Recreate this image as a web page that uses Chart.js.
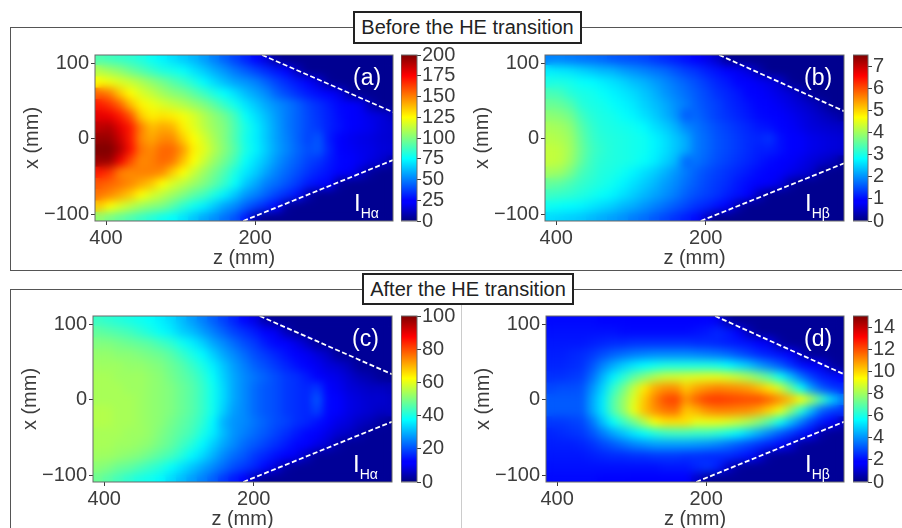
<!DOCTYPE html>
<html><head><meta charset="utf-8">
<script src="https://cdn.jsdelivr.net/npm/chart.js@4"></script>
<style>
html,body{margin:0;padding:0;background:#fff;width:902px;height:528px;overflow:hidden;font-family:"Liberation Sans",Arial,sans-serif}
canvas{position:absolute}
.frame{position:absolute;border:1px solid #555;box-sizing:border-box}
.title{position:absolute;background:#fff;border:2px solid #222;box-sizing:border-box;color:#222;font-size:20px;text-align:center;line-height:28px;white-space:nowrap}
.lab{position:absolute;color:#fff;white-space:nowrap;z-index:5}
.lab sub{font-size:14px;vertical-align:baseline;position:relative;top:7px}
</style></head><body>
<div class="frame" style="left:10px;top:27px;width:900px;height:244px"></div>
<div class="frame" style="left:10px;top:289px;width:900px;height:260px"></div>
<div style="position:absolute;left:461px;top:305px;width:1px;height:223px;background:#ccc"></div>
<div class="title" style="left:353px;top:11px;width:229px;height:33px">Before the HE transition</div>
<div class="title" style="left:362px;top:273px;width:212px;height:32px">After the HE transition</div>
<script>
const zCenters=[408,394,380,366,352,338,324,310,296,282,268,254,240,226,212,198,184,170,156,142,128,114,100,86,72,58,44,30,16];
const xCenters=[105,90,75,60,45,30,15,0,-15,-30,-45,-60,-75,-90,-105];
const zTicks=[400,200];
const xTicks=[100,0,-100];
const ticksA=[0,25,50,75,100,125,150,175,200];
const ticksB=[0,1,2,3,4,5,6,7];
const ticksC=[0,20,40,60,80,100];
const ticksD=[0,2,4,6,8,10,12,14];
const intensityA=[
[90,88,86,84,81,77,73,69,65,61,56,50,44,38,32,26,16,5,3,3,3,3,3,3,3,3,3,3,3],
[110,106,102,96,91,86,81,79,76,70,65,59,54,48,43,38,33,29,24,10,3,3,3,3,3,3,3,3,3],
[125,122,118,114,109,103,98,92,87,81,74,68,62,57,54,50,44,38,33,29,25,15,4,3,3,3,3,3,3],
[155,150,135,125,118,113,107,102,99,93,87,80,75,69,62,57,52,44,39,34,30,27,25,18,5,3,3,3,3],
[170,165,155,138,127,122,118,114,110,105,100,93,85,78,70,64,58,53,49,44,38,34,30,26,24,20,8,3,3],
[180,178,170,158,135,128,130,128,123,118,110,103,97,88,76,69,62,55,49,44,39,35,31,27,24,21,18,16,12],
[188,190,180,170,150,138,142,140,128,120,112,105,100,90,80,72,64,56,49,44,39,36,31,28,24,21,19,16,14],
[195,195,185,170,148,142,148,148,135,125,117,108,100,90,79,72,64,56,50,44,38,42,30,23,20,18,17,15,14],
[205,205,190,172,152,148,155,155,145,128,120,110,101,92,80,73,65,57,51,45,40,42,32,25,21,19,18,16,15],
[195,195,178,160,148,150,155,152,138,125,115,105,97,88,76,69,62,54,48,43,38,35,30,26,23,20,17,14,8],
[170,165,150,148,150,150,148,135,125,115,106,98,90,80,71,65,57,50,45,40,35,31,28,25,21,14,5,3,3],
[158,155,152,148,142,136,125,118,112,106,100,93,85,76,65,58,50,46,41,36,30,27,24,5,3,3,3,3,3],
[152,148,142,135,125,118,112,106,100,93,88,80,72,64,55,50,44,38,33,28,8,3,3,3,3,3,3,3,3],
[135,125,118,112,106,102,99,92,84,78,72,65,57,52,44,38,32,26,5,3,3,3,3,3,3,3,3,3,3],
[103,98,94,90,86,82,78,75,70,64,58,53,47,41,30,8,3,3,3,3,3,3,3,3,3,3,3,3,3]];
const intensityB=[
[1.9,1.9,1.85,1.8,1.75,1.7,1.6,1.55,1.5,1.45,1.35,1.25,1.15,1.05,.9,.7,.5,.15,.1,.1,.1,.1,.1,.1,.1,.1,.1,.1,.1],
[2.7,2.65,2.6,2.5,2.4,2.3,2.25,2.1,2,1.9,1.8,1.7,1.55,1.4,1.3,1.15,1.05,.9,.75,.6,.3,.1,.1,.1,.1,.1,.1,.1,.1],
[3,3,2.95,2.85,2.8,2.7,2.6,2.5,2.35,2.25,2.1,1.95,1.8,1.65,1.5,1.35,1.2,1.1,.95,.85,.75,.65,.5,.15,.1,.1,.1,.1,.1],
[3.35,3.3,3.1,3,2.95,2.85,2.75,2.65,2.55,2.4,2.25,2.05,1.9,1.75,1.6,1.45,1.3,1.2,1.1,.95,.85,.75,.65,.55,.4,.15,.1,.1,.1],
[3.6,3.55,3.4,3.1,3,2.95,2.85,2.75,2.65,2.5,2.35,2.2,2,1.85,1.65,1.5,1.4,1.25,1.15,1.05,.95,.85,.75,.65,.55,.45,.3,.1,.1],
[3.85,3.8,3.65,3.3,3.1,3,2.95,2.85,2.75,2.6,2.45,2.25,2.05,1.6,1.7,1.55,1.4,1.3,1.2,1.1,1,.95,.85,.75,.65,.55,.45,.35,.2],
[4.05,4,3.85,3.45,3.2,3.05,3,2.95,2.9,2.8,2.6,2.45,2.25,1.95,1.8,1.65,1.5,1.4,1.3,1.2,1.1,1.05,.95,.8,.7,.6,.55,.5,.45],
[4.15,4.1,3.95,3.55,3.25,3.1,3.05,3,2.95,2.9,2.75,2.6,2.4,2.2,1.85,1.7,1.55,1.45,1.35,1.25,1.2,1.3,1.05,.9,.8,.7,.65,.6,.55],
[4.25,4.2,4,3.6,3.3,3.15,3.05,3,2.95,2.9,2.75,2.6,2.4,2.2,1.85,1.7,1.55,1.45,1.35,1.25,1.15,1.15,1.05,.9,.8,.7,.65,.6,.55],
[4.25,4.2,3.95,3.55,3.25,3.1,3.05,3,2.95,2.85,2.7,2.5,2.3,1.7,1.8,1.65,1.5,1.4,1.3,1.2,1.1,1,.9,.8,.7,.6,.5,.4,.15],
[4,3.95,3.7,3.35,3.2,3.05,3,2.9,2.75,2.6,2.45,2.25,2.05,1.85,1.65,1.5,1.4,1.3,1.2,1.1,1,.9,.8,.7,.6,.5,.15,.1,.1],
[3.55,3.5,3.35,3.2,3.1,3,2.9,2.75,2.6,2.45,2.3,2.1,1.95,1.75,1.6,1.45,1.35,1.25,1.1,1,.9,.8,.65,.25,.1,.1,.1,.1,.1],
[3.25,3.2,3.15,3.05,2.95,2.85,2.75,2.6,2.45,2.3,2.15,2,1.85,1.65,1.5,1.4,1.3,1.15,1.05,.9,.4,.1,.1,.1,.1,.1,.1,.1,.1],
[2.9,2.85,2.8,2.75,2.65,2.55,2.45,2.3,2.2,2.05,1.9,1.75,1.6,1.45,1.3,1.2,1.05,.8,.3,.1,.1,.1,.1,.1,.1,.1,.1,.1,.1],
[2.55,2.5,2.45,2.4,2.3,2.2,2.1,2,1.85,1.75,1.6,1.45,1.3,1.15,1,.5,.1,.1,.1,.1,.1,.1,.1,.1,.1,.1,.1,.1,.1]];
const intensityC=[
[43,42,41,40,39,38,36,34,31,28,25,22,19,16,13,9,4,2,2,2,2,2,2,2,2,2,2,2,2],
[47,46,45,44,42,40,38,36,33,31,28,25,22,19,17,15,12,10,5,2,2,2,2,2,2,2,2,2,2],
[50,50,49,48,47,46,44,42,39,36,33,29,26,23,20,18,15,13,11,9,6,2,2,2,2,2,2,2,2],
[52,52,51,51,50,49,48,46,43,40,37,33,29,26,23,20,18,16,14,12,10,8,6,2,2,2,2,2,2],
[53,53,53,52,52,51,50,48,46,43,40,36,32,28,25,22,20,18,16,14,12,10,8,7,5,2,2,2,2],
[54,54,53,53,53,52,51,49,47,45,42,38,33,29,26,24,22,20,18,17,15,12,10,9,7,5,4,2,2],
[54,54,54,53,53,52,51,50,48,46,43,39,34,29,26,23,21,20,18,17,16,18,12,10,8,7,6,6,5],
[54,54,54,54,53,52,51,50,48,46,43,39,34,29,26,23,21,20,18,17,16,21,13,11,9,8,7,7,6],
[55,55,54,54,53,52,51,50,48,46,43,39,33,28,26,23,21,20,18,17,16,19,13,11,9,8,7,6,6],
[55,55,54,54,53,52,51,49,47,45,42,37,30,27,26,24,22,20,19,17,16,14,11,9,8,6,5,3,2],
[54,54,54,53,53,52,50,48,46,44,40,36,31,27,25,23,21,19,17,15,13,11,9,7,6,4,2,2,2],
[54,54,53,53,52,51,49,47,44,41,37,33,29,26,23,21,19,17,15,13,11,9,7,3,2,2,2,2,2],
[53,53,52,51,50,48,46,44,41,37,34,30,26,23,21,18,16,14,12,10,5,2,2,2,2,2,2,2,2],
[51,50,48,47,45,43,41,38,35,32,29,26,23,20,18,16,13,8,3,2,2,2,2,2,2,2,2,2,2],
[48,46,44,42,40,39,37,34,31,28,25,22,18,15,11,5,2,2,2,2,2,2,2,2,2,2,2,2,2]];
const intensityD=[
[2,2,2,2,2,1.9,1.9,1.9,1.8,1.8,1.8,1.7,1.7,1.7,1.8,1.9,1.5,.5,.3,.3,.3,.3,.3,.3,.3,.3,.3,.3,.3],
[2.1,2.1,2.1,2.1,2.1,2.1,2.1,2,2,2,2,2,2,2,2.1,2.2,2.4,2.2,1.6,.7,.3,.3,.3,.3,.3,.3,.3,.3,.3],
[2.2,2.2,2.2,2.2,2.3,2.4,2.5,2.5,2.6,2.6,2.6,2.6,2.6,2.6,2.5,2.5,2.4,2.3,2.2,2.1,1.8,1.4,.5,.3,.3,.3,.3,.3,.3],
[2.3,2.3,2.4,2.5,2.7,3,3.3,3.5,3.7,3.8,3.9,3.9,3.9,3.9,3.8,3.7,3.6,3.4,3.1,2.8,2.5,2.3,2.1,1.7,.8,.3,.3,.3,.3],
[2.4,2.4,2.5,2.6,3.1,3.8,4.4,4.9,5.3,5.6,5.8,6,6,6,6,6,5.9,5.6,5.2,4.8,4.2,3.7,3.2,2.6,2.1,1.8,1.4,.5,.3],
[2.6,2.6,2.7,2.8,3.5,4.5,5.4,6.2,7,7.6,8.2,8.6,8.7,8.8,8.9,9,9,8.8,8.5,8.1,7.5,6.8,5.8,4.7,3.6,2.8,2.3,2.1,1.9],
[2.9,3,3,3.1,4,5,6.3,7.3,8.5,9.7,10.6,11,11,10.2,10.7,11,11.2,11.1,11,10.8,10.3,9.7,8.7,7.2,5.7,4.2,3.2,2.7,2.5],
[3.2,3.2,3.2,3.2,4.3,5.3,6.8,7.8,8.9,10.2,11.2,12,12.2,11,11.7,12.2,12.3,12.2,12.1,12,12,11.6,11,10.3,9.4,8.1,6.6,5,3.8],
[3.2,3.2,3.2,3.2,4.3,5.3,6.8,7.8,9.1,10.3,11,11.4,11.5,10.2,10.5,11,11.2,11.2,11.1,11,10.6,10,9.1,7.7,6.2,4.6,3.3,2.8,2.6],
[2.7,2.7,2.8,2.9,3.6,4.7,5.7,6.5,7.3,8.3,9.3,9.8,9.8,9.8,9.1,9.1,9.1,8.9,8.6,8.2,7.6,6.8,5.8,4.7,3.7,2.8,2.2,1.6,.8],
[2.4,2.5,2.6,2.7,3.1,3.7,4.3,4.8,5.3,5.7,6.1,6.4,6.5,6.5,6.4,6.4,6.2,5.9,5.5,5,4.4,3.8,3.2,2.7,2.2,1.6,.5,.3,.3],
[2.3,2.3,2.3,2.4,2.6,2.9,3.2,3.5,3.8,4,4.2,4.2,4.2,4.2,4.1,4,3.8,3.5,3.2,2.9,2.6,2.3,2,1.2,.4,.3,.3,.3,.3],
[2.2,2.2,2.2,2.2,2.3,2.4,2.5,2.5,2.6,2.6,2.7,2.7,2.7,2.6,2.6,2.5,2.5,2.5,2.3,2.1,1.2,.4,.3,.3,.3,.3,.3,.3,.3],
[2.1,2.1,2.1,2.1,2.1,2.1,2.1,2.1,2.1,2.1,2.1,2.2,2.2,2.2,2.4,2.6,2.3,1,.4,.3,.3,.3,.3,.3,.3,.3,.3,.3,.3],
[2,2,2,2,2,1.9,1.9,1.9,1.8,1.8,1.8,1.7,1.7,1.7,1,.4,.3,.3,.3,.3,.3,.3,.3,.3,.3,.3,.3,.3,.3]];
const wedgeTopA=[[190.6,111.4],[15,35.4]], wedgeBotA=[[216,-109.3],[15,-28.3]];
const wedgeTopB=[[182,111.4],[15,36.8]], wedgeBotB=[[206.7,-109.3],[15,-32.6]];
const wedgeTopC=[[192,111.4],[15,34]], wedgeBotC=[[214,-109.3],[15,-29.2]];
const wedgeTopD=[[188,111.4],[15,34]], wedgeBotD=[[213.4,-109.3],[15,-29.2]];

const stops=[[0,[0,0,128]],[0.11,[0,0,255]],[0.125,[0,0,255]],[0.375,[0,255,255]],[0.625,[255,255,0]],[0.875,[255,0,0]],[1,[128,0,0]]];
function jet(f){f=Math.max(0,Math.min(1,f));
 for(let i=1;i<stops.length;i++){if(f<=stops[i][0]){const a=stops[i-1],b=stops[i],t=(f-a[0])/(b[0]-a[0]);
  return 'rgb('+a[1].map((c,k)=>Math.round(c+(b[1][k]-c)*t)).join(',')+')';}}
 return 'rgb(128,0,0)';}
const inkColor='#3c3c3c', spine='#6a6a6a';
const blurPlugin={id:'soften',afterDatasetDraw(chart,args){
 if(!chart.data.datasets[args.index].isHeat)return;
 const a=chart.chartArea,c=chart.ctx;c.save();c.beginPath();c.rect(a.left,a.top,a.width,a.height);c.clip();
 c.filter='blur(4px)';c.drawImage(chart.canvas,a.left,a.top,a.width,a.height,a.left,a.top,a.width,a.height);c.restore();}};
const spinePlugin={id:'spine',afterDraw(chart){const a=chart.chartArea,c=chart.ctx;c.save();c.strokeStyle=spine;c.lineWidth=1;
 c.strokeRect(a.left,a.top,a.width,a.height);c.restore();}};
function addCanvas(l,t,w,h){const e=document.createElement('canvas');e.width=w;e.height=h;e.style.left=l+'px';e.style.top=t+'px';e.style.width=w+'px';e.style.height=h+'px';document.body.appendChild(e);return e;}
const minus=v=>String(v).replace('-','\u2212');
const noPad=s=>{s.paddingLeft=s.paddingRight=s.paddingTop=s.paddingBottom=0;};
const tickFont={family:'Liberation Sans',size:20};
function panel(p){
 const padL=80,padT=6,padB=52,padR=4;
 const el=addCanvas(p.left-padL,p.top-padT,p.right-p.left+padL+padR,p.bottom-p.top+padT+padB);
 const pts=[],cols=[];
 xCenters.forEach((x,r)=>zCenters.forEach((z,i)=>{pts.push({x:z,y:x});cols.push(jet(p.grid[r][i]/p.vmax));}));
 const line=w=>({type:'scatter',showLine:true,data:w.map(q=>({x:q[0],y:q[1]})),borderColor:'#fff',borderWidth:1.8,borderDash:[5,2.5],pointRadius:0,order:0});
 new Chart(el,{type:'scatter',data:{datasets:[line(p.wt),line(p.wb),
   {isHeat:true,data:pts,pointStyle:'rect',pointRadius:8.5,pointBorderWidth:0,pointBackgroundColor:cols,order:1}]},
  plugins:[blurPlugin,spinePlugin],
  options:{responsive:false,animation:false,devicePixelRatio:1,events:[],layout:{autoPadding:false,padding:{top:padT,right:padR,left:0,bottom:0}},
   plugins:{legend:{display:false},tooltip:{enabled:false}},
   scales:{
    x:{type:'linear',reverse:true,min:15,max:p.zmax,afterBuildTicks(s){s.ticks=zTicks.map(v=>({value:v}));},afterFit(s){s.height=padB;noPad(s);},
      grid:{drawOnChartArea:false,color:inkColor,tickLength:4},border:{display:false},
      ticks:{color:inkColor,font:tickFont,padding:1,maxRotation:0,autoSkip:false,callback:v=>String(v)},
      title:{display:true,text:'z (mm)',color:inkColor,font:tickFont,padding:{top:0,bottom:3}}},
    y:{type:'linear',min:-109.3,max:111.4,afterBuildTicks(s){s.ticks=xTicks.map(v=>({value:v}));},afterFit(s){s.width=padL;noPad(s);},
      grid:{drawOnChartArea:false,color:inkColor,tickLength:4},border:{display:false},
      ticks:{color:inkColor,font:tickFont,padding:2,autoSkip:false,callback:minus},
      title:{display:true,text:'x (mm)',color:inkColor,font:tickFont,padding:{top:5,bottom:0}}}
   }}});
 const cbEl=addCanvas(p.cbl,p.top-14,p.cbr-p.cbl+50,p.bottom-p.top+28);
 new Chart(cbEl,{type:'bar',data:{labels:[''],datasets:[{data:[[0,p.vmax]],barPercentage:1,categoryPercentage:1,
   backgroundColor(c){const a=c.chart.chartArea;if(!a)return '#000';const g=c.chart.ctx.createLinearGradient(0,a.bottom,0,a.top);
     stops.forEach(s=>g.addColorStop(s[0],jet(s[0])));return g;}}]},
  plugins:[spinePlugin],
  options:{responsive:false,animation:false,devicePixelRatio:1,events:[],layout:{padding:{top:14,bottom:14,left:0,right:0}},
   plugins:{legend:{display:false},tooltip:{enabled:false}},
   scales:{x:{display:false},
    y:{position:'right',min:0,max:p.vmax,afterBuildTicks(s){s.ticks=p.cbTicks.map(v=>({value:v}));},afterFit(s){s.width=50;noPad(s);},
      grid:{drawOnChartArea:false,color:inkColor,tickLength:4},border:{display:false},
      ticks:{color:inkColor,font:tickFont,padding:1,autoSkip:false,callback:v=>String(v)}}}}});
 const tag=document.createElement('div');tag.className='lab';tag.textContent=p.tag;tag.style.cssText+='font-size:23px;left:'+(p.right-40)+'px;top:'+(p.top+9)+'px';document.body.appendChild(tag);
 const nm=document.createElement('div');nm.className='lab';nm.innerHTML='I<sub>'+p.name+'</sub>';nm.style.cssText+='font-size:24px;font-weight:300;left:'+(p.right-39)+'px;top:'+(p.bottom-32)+'px';document.body.appendChild(nm);
}
panel({left:95,right:393,top:55,bottom:221,zmax:414.8,grid:intensityA,vmax:200,wt:wedgeTopA,wb:wedgeBotA,cbl:401,cbr:417,cbTicks:ticksA,tag:'(a)',name:'H\u03b1'});
panel({left:545,right:844,top:55,bottom:221,zmax:415,grid:intensityB,vmax:7.5,wt:wedgeTopB,wb:wedgeBotB,cbl:853,cbr:868,cbTicks:ticksB,tag:'(b)',name:'H\u03b2'});
panel({left:93,right:392,top:316,bottom:482,zmax:415,grid:intensityC,vmax:100,wt:wedgeTopC,wb:wedgeBotC,cbl:401,cbr:417,cbTicks:ticksC,tag:'(c)',name:'H\u03b1'});
panel({left:546,right:844,top:316,bottom:482,zmax:415,grid:intensityD,vmax:15,wt:wedgeTopD,wb:wedgeBotD,cbl:853,cbr:868,cbTicks:ticksD,tag:'(d)',name:'H\u03b2'});
</script>
</body></html>
